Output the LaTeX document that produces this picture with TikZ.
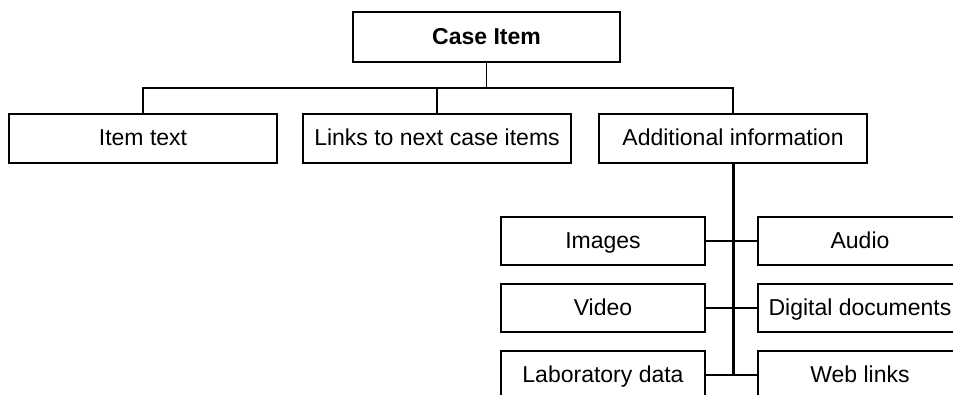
\documentclass[tikz,border=0pt]{standalone}
\usepackage{fontspec}
\setmainfont{Liberation Sans}
\begin{document}
\begin{tikzpicture}[x=1pt,y=-1pt,
  box/.style={draw=black,line width=2pt,minimum height=49pt,inner sep=0pt,text height=17.5pt,text depth=3pt,font=\fontsize{23}{27}\selectfont},
  bigbox/.style={box,minimum width=268pt},
  smallbox/.style={box,minimum width=204pt,minimum height=48pt},
  conn/.style={line width=1.6pt},
  spine/.style={line width=3pt}]
\useasboundingbox (0,0) rectangle (953,394);
\clip (0,0) rectangle (953,394);
\node[bigbox,minimum width=267pt,minimum height=50pt,font=\fontsize{23}{27}\selectfont\bfseries] (case) at (486.5,37) {Case Item};
\node[bigbox] (item) at (143,138.5) {Item text};
\node[bigbox] (links) at (437,138.5) {Links to next case items};
\node[bigbox] (add) at (733,138.5) {Additional information};
\node[smallbox] (img) at (603,241) {Images};
\node[smallbox] (aud) at (860,241) {Audio};
\node[smallbox] (vid) at (603,308) {Video};
\node[smallbox] (doc) at (860,308) {Digital documents};
\node[smallbox] (lab) at (603,375) {Laboratory data};
\node[smallbox] (web) at (860,375) {Web links};
\coordinate (bus) at (486.5,88);
\coordinate (spend) at (733,375);
\draw[conn] (case.south) -- (bus);
\draw[conn] (item.north) |- (bus) -| (add.north);
\draw[conn] (links.north) -- (links.north |- bus);
\draw[spine] (add.south) -- (spend);
\draw[conn] (img.east) -- (aud.west);
\draw[conn] (vid.east) -- (doc.west);
\draw[conn] (lab.east) -- (web.west);
\end{tikzpicture}
\end{document}
